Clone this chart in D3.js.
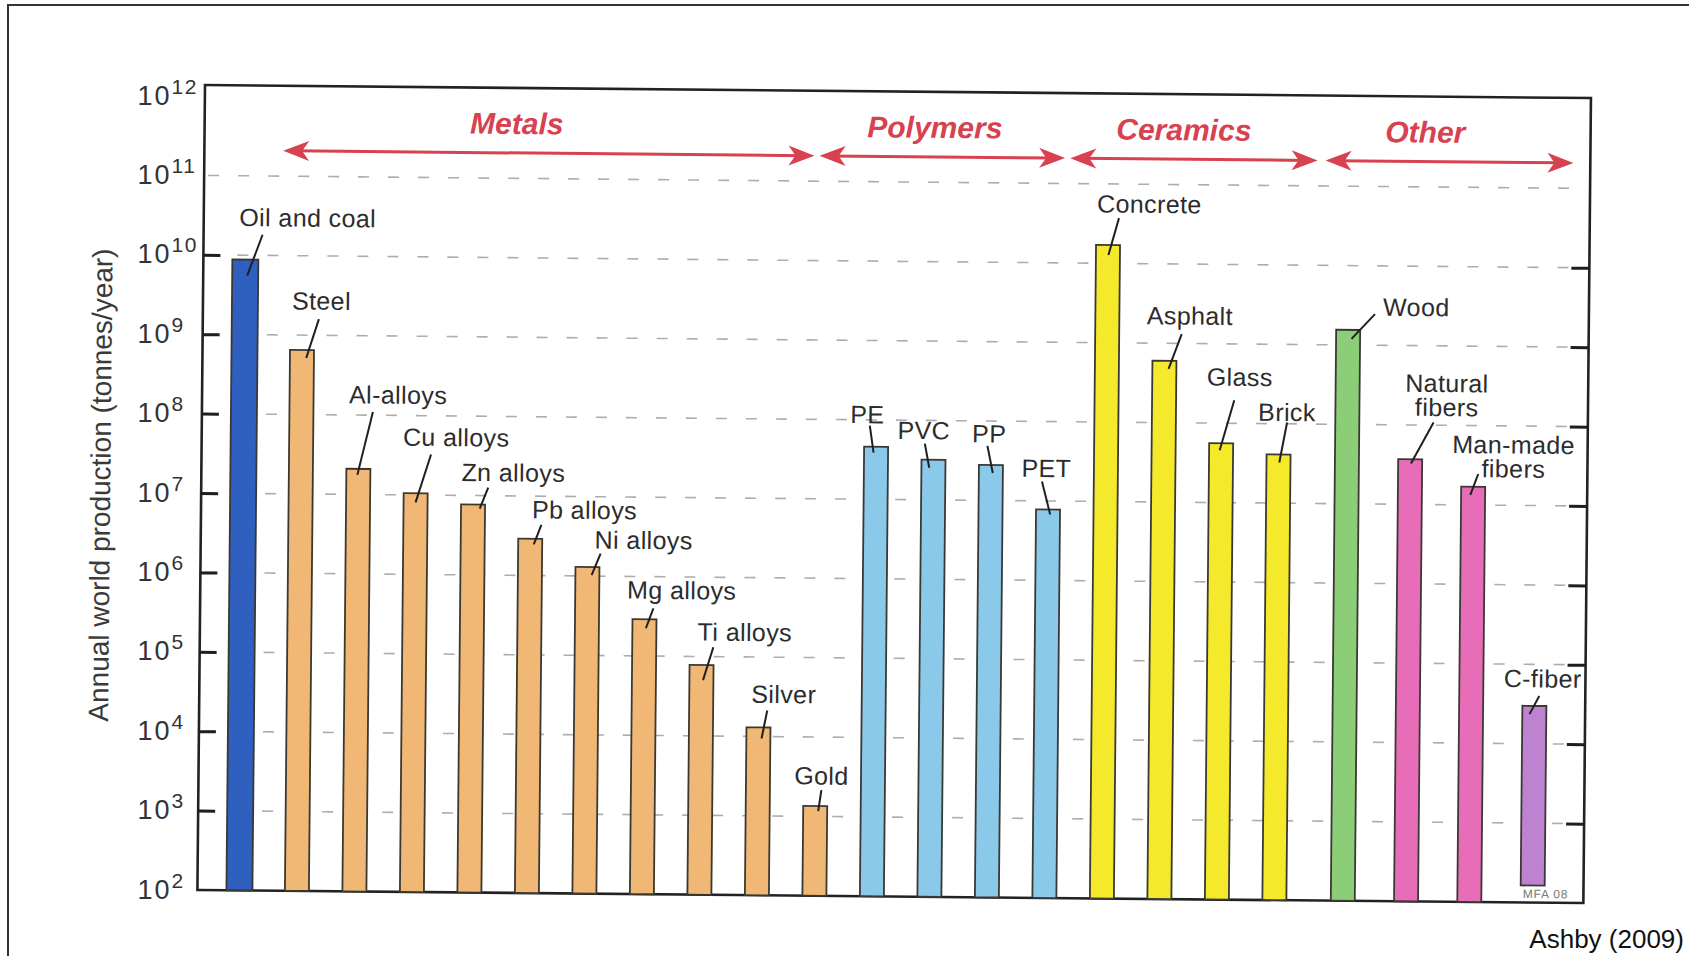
<!DOCTYPE html>
<html>
<head>
<meta charset="utf-8">
<title>Annual world production of materials</title>
<script src="https://cdn.jsdelivr.net/npm/d3@7"></script>
<style>
  html, body { margin: 0; padding: 0; background: #fff; }
  svg { display: block; font-family: "Liberation Sans", Arial, Helvetica, sans-serif; }
</style>
</head>
<body>
<svg id="chart" width="1689" height="956"></svg>
<script>
// ---- data -------------------------------------------------------------
const materials = [
  "Oil and coal", "Steel", "Al-alloys", "Cu alloys", "Zn alloys", "Pb alloys",
  "Ni alloys", "Mg alloys", "Ti alloys", "Silver", "Gold",
  "PE", "PVC", "PP", "PET",
  "Concrete", "Asphalt", "Glass", "Brick",
  "Wood", "Natural fibers", "Man-made fibers", "C-fiber"
];
// annual world production, tonnes/year
const production = [
  8.8e9, 6.5e8, 2.1e7, 1.05e7, 7.7e6, 2.9e6,
  1.3e6, 2.9e5, 7.8e4, 1.3e4, 1.35e3,
  4.6e7, 3.2e7, 2.8e7, 7.8e6,
  1.7e10, 6.0e8, 5.6e7, 4.1e7,
  1.55e9, 3.7e7, 1.7e7, 3.0e4
];
const materialClass = [
  "fuel", "metal", "metal", "metal", "metal", "metal",
  "metal", "metal", "metal", "metal", "metal",
  "polymer", "polymer", "polymer", "polymer",
  "ceramic", "ceramic", "ceramic", "ceramic",
  "natural", "fiber", "fiber", "carbon"
];
const family = [
  "Fuel", "Metals", "Metals", "Metals", "Metals", "Metals",
  "Metals", "Metals", "Metals", "Metals", "Metals",
  "Polymers", "Polymers", "Polymers", "Polymers",
  "Ceramics", "Ceramics", "Ceramics", "Ceramics",
  "Other", "Other", "Other", "Other"
];
const families = ["Metals", "Polymers", "Ceramics", "Other"];
const tickExponents = [2, 3, 4, 5, 6, 7, 8, 9, 10, 11, 12];

// ---- styling / layout -------------------------------------------------
const classColor = {
  fuel: "#2f5fbf", metal: "#f0b874", polymer: "#8ac9ea", ceramic: "#f4ea2b",
  natural: "#8ccd78", fiber: "#e86db8", carbon: "#bd83d0"
};
const red = "#d8414f";
const ink = "#2c2c2c";

const plot = { left: 205, top: 85, right: 1591, bottom: 890 };
const tilt = 0.54;               // the printed figure sits slightly askew
// wider spacing for the last family of bars
const spacing = { Other: { enter: 1.19, within: 1.1 } };

// label placement relative to each bar top: text centre, leader start, leader end
const labelLayout = [
  [62, -42, 17, -25, 2, 16], [19, -49, 16.6, -31, 4.3, 8], [39, -74, 14, -57, -1, 6],
  [40, -56, 15, -39, 0, 9], [40, -32, 15, -17, 6.7, 4], [54, -29, 11, -14, 3.6, 5.6],
  [56, -27, 13, -13.4, 4.2, 8], [37, -29, 8.8, -11, 1.5, 9], [43, -33, 11.6, -18, 1.6, 15],
  [25, -33, 8.6, -17, 3.2, 11], [6, -30, 6, -16, 3, 5],
  [-9, -32, -6.5, -21, -2.5, 6], [-10, -29, -8.8, -16, -4.2, 8], [-2, -31, -3.7, -19, 1.9, 8],
  [-2, -41, -6.3, -28, 2.2, 5],
  [41, -41, 10.7, -27, 0.5, 10], [25, -45, 17, -27, 4.2, 8], [18, -66, 12.7, -43, -1.4, 7],
  [8, -42, 8.2, -32, 0.8, 8],
  [68, -23, 26.7, -16, 3.4, 9], [36, -64, 23, -37, 0.8, 4.3], [40, -30, 4.9, -12.7, -2.8, 8.3],
  [8, -27, 4.8, -10, -4.8, 8.3]
];
// family arrows in bar-slot units: [arrow start, arrow end, title centre]
const familyLayout = {
  Metals: [0.64, 9.88, 4.7],
  Polymers: [9.97, 14.24, 11.97],
  Ceramics: [14.33, 18.63, 16.3],
  Other: [18.77, 23.08, 20.5]
};

// ---- slot positions ---------------------------------------------------
const slots = [];
materials.forEach((m, i) => {
  if (i === 0) { slots.push(0); return; }
  const f = family[i], prev = family[i - 1];
  let step = 1;
  if (spacing[f]) step = (f === prev) ? spacing[f].within : spacing[f].enter;
  slots.push(slots[i - 1] + step);
});

const slotPx = 57.5;
const firstPx = 247;
const x = d3.scaleLinear()
  .domain([(plot.left - firstPx) / slotPx, (plot.right - firstPx) / slotPx])
  .range([plot.left, plot.right]);
const y = d3.scaleLog().domain([1e2, 1e12]).range([plot.bottom, 96]);

const svg = d3.select("#chart");

// outer page frame
svg.append("path")
  .attr("d", "M8,956 L8,5 L1689,5")
  .attr("fill", "none").attr("stroke", "#333").attr("stroke-width", 2);

const g = svg.append("g").attr("transform", `rotate(${tilt},${plot.left},${plot.top})`);

// dashed decade gridlines
const gridVals = tickExponents.filter(e => e >= 3 && e <= 11).map(e => Math.pow(10, e));
g.append("g").selectAll("line").data(gridVals).join("line")
  .attr("x1", plot.left + 4).attr("x2", plot.right - 4)
  .attr("y1", d => y(d)).attr("y2", d => y(d))
  .attr("stroke", "#adadad").attr("stroke-width", 1.6)
  .attr("stroke-dasharray", "11,19");

// plot frame
g.append("rect")
  .attr("x", plot.left).attr("y", plot.top)
  .attr("width", plot.right - plot.left).attr("height", plot.bottom - plot.top)
  .attr("fill", "none").attr("stroke", "#222").attr("stroke-width", 2.6);

// inner tick marks on both vertical axes
const tickVals = tickExponents.filter(e => e >= 3 && e <= 10).map(e => Math.pow(10, e));
const leftAxis = d3.axisLeft(y).tickValues(tickVals).tickSize(-17).tickFormat("");
const rightAxis = d3.axisRight(y).tickValues(tickVals).tickSize(-18).tickFormat("");
g.append("g").attr("transform", `translate(${plot.left},0)`).call(leftAxis)
  .call(a => a.select(".domain").remove())
  .selectAll("line").attr("stroke", "#1e1e1e").attr("stroke-width", 3);
g.append("g").attr("transform", `translate(${plot.right},0)`).call(rightAxis)
  .call(a => a.select(".domain").remove())
  .selectAll("line").attr("stroke", "#1e1e1e").attr("stroke-width", 3);

// tick labels 10^n, set in a straight column beside the axis
const tl = svg.append("g").selectAll("text").data(tickExponents).join("text")
  .attr("x", 137.5).attr("y", e => y(Math.pow(10, e)) + 8.5)
  .attr("font-size", 27).attr("fill", "#333");
tl.append("tspan").attr("letter-spacing", 2).text("10");
tl.append("tspan").attr("dy", -11).attr("font-size", 21)
  .attr("letter-spacing", 1.5).text(e => e);

// axis title
g.append("text")
  .attr("transform", `translate(114,486) rotate(-90)`)
  .attr("text-anchor", "middle").attr("font-size", 28).attr("fill", "#3a3a3a")
  .text("Annual world production (tonnes/year)");

// bars
const rows = materials.map((m, i) => ({
  name: m, value: production[i], cls: materialClass[i], slot: slots[i], i
}));
const lastIdx = rows.length - 1;
g.append("g").selectAll("rect").data(rows).join("rect")
  .attr("x", d => x(d.slot) - (d.cls === "fuel" ? 13 : 12))
  .attr("width", d => d.cls === "fuel" ? 26 : 24)
  .attr("y", d => y(d.value))
  .attr("height", d => y(1e2) - y(d.value) - (d.i === lastIdx ? 17 : 0))
  .attr("fill", d => classColor[d.cls])
  .attr("stroke", "#3b3833").attr("stroke-width", 1.8);

// leader lines
g.append("g").selectAll("line").data(rows).join("line")
  .attr("x1", d => x(d.slot) + labelLayout[d.i][2])
  .attr("y1", d => y(d.value) + labelLayout[d.i][3])
  .attr("x2", d => x(d.slot) + labelLayout[d.i][4])
  .attr("y2", d => y(d.value) + labelLayout[d.i][5])
  .attr("stroke", "#1f1f1f").attr("stroke-width", 2);

// bar names
const fs = 25;
const labels = g.append("g").selectAll("text").data(rows).join("text")
  .attr("text-anchor", "middle").attr("font-size", fs).attr("fill", ink)
  .attr("letter-spacing", 0.4)
  .attr("x", d => x(d.slot) + labelLayout[d.i][0])
  .attr("y", d => y(d.value) + labelLayout[d.i][1] + fs * 0.34);
labels.each(function (d) {
  const t = d3.select(this);
  const parts = d.name.endsWith(" fibers") ? [d.name.replace(/ fibers$/, ""), "fibers"] : [d.name];
  if (parts.length === 1) { t.text(d.name); return; }
  const cx = +t.attr("x");
  t.attr("y", +t.attr("y") - 12);
  t.append("tspan").attr("x", cx).text(parts[0]);
  t.append("tspan").attr("x", cx).attr("dy", 24).text(parts[1]);
});

// small plate mark under the last bar
g.append("text")
  .attr("x", x(slots[lastIdx]) + 13).attr("y", plot.bottom - 4.5)
  .attr("text-anchor", "middle").attr("font-size", 12).attr("letter-spacing", 0.8)
  .attr("fill", "#777").text("MFA 08");

// family arrows and titles
const arrowY = 150;
function head(tx, ty, dir) {
  return `M${tx},${ty} L${tx - dir * 26},${ty - 10} L${tx - dir * 19},${ty} L${tx - dir * 26},${ty + 10} Z`;
}
const fam = g.append("g");
families.forEach(f => {
  const [s0, s1, sc] = familyLayout[f];
  const x0 = x(s0), x1 = x(s1);
  fam.append("line").attr("x1", x0 + 10).attr("x2", x1 - 10)
    .attr("y1", arrowY).attr("y2", arrowY)
    .attr("stroke", red).attr("stroke-width", 3);
  fam.append("path").attr("d", head(x0, arrowY, -1)).attr("fill", red);
  fam.append("path").attr("d", head(x1, arrowY, 1)).attr("fill", red);
  fam.append("text").attr("x", x(sc)).attr("y", 131)
    .attr("text-anchor", "middle").attr("font-size", 30)
    .attr("font-weight", "bold").attr("font-style", "italic")
    .attr("fill", red).text(f);
});

// source note
svg.append("text")
  .attr("x", 1684).attr("y", 948).attr("text-anchor", "end")
  .attr("font-size", 26).attr("fill", "#111").text("Ashby (2009)");
</script>
</body>
</html>
